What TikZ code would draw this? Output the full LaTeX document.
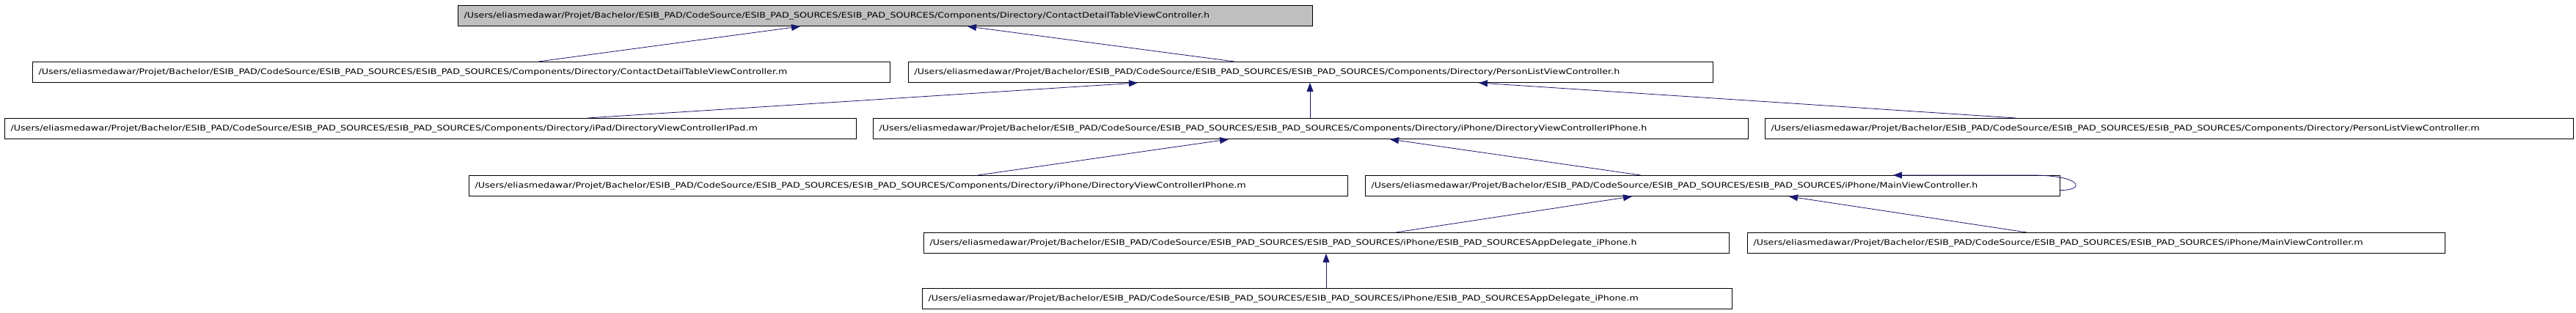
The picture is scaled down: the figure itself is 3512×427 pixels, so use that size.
\documentclass[tikz,border=0pt]{standalone}
\usepackage{fontspec}
\setmainfont{DejaVu Sans}[FakeStretch=1.21]
\usetikzlibrary{arrows.meta}
\definecolor{midnightblue}{RGB}{25,25,112}
\definecolor{grey75}{RGB}{191,191,191}
\newcommand{\srcdir}{/Users/eliasmedawar/Projet/Bachelor/ESIB\_PAD/CodeSource/ESIB\_PAD\_SOURCES/ESIB\_PAD\_SOURCES/}
\tikzset{
	filebox/.style={draw=black, line width=1pt, anchor=north west, fill=white,
		minimum height=28pt, inner xsep=8pt, inner ysep=0pt, align=left,
		/utils/exec={\pgfmathsetlengthmacro\boxtw{#1-16}}, text width=\boxtw,
		font=\fontsize{10.5pt}{12pt}\selectfont},
	rootbox/.style={filebox=#1, fill=grey75},
	dep/.style={midnightblue, line width=0.8pt, -{Triangle[length=12pt,width=9pt]}}
}

\begin{document}
\begin{tikzpicture}[x=1pt,y=-1pt]
\useasboundingbox (0,0) rectangle (3512,427);

\node[rootbox=1165] (detailh) at (624,7) {\srcdir Components/Directory/ContactDetailTableViewController.h};

\node[filebox=1169] (detailm) at (44,84) {\srcdir Components/Directory/ContactDetailTableViewController.m};
\node[filebox=1097] (personh) at (1238,84) {\srcdir Components/Directory/PersonListViewController.h};

\node[filebox=1161] (ipadm) at (6,161) {\srcdir Components/Directory/iPad/DirectoryViewControllerIPad.m};
\node[filebox=1193] (iphoneh) at (1190,161) {\srcdir Components/Directory/iPhone/DirectoryViewControllerIPhone.h};
\node[filebox=1102] (personm) at (2406,161) {\srcdir Components/Directory/PersonListViewController.m};

\node[filebox=1198] (iphonem) at (639,239) {\srcdir Components/Directory/iPhone/DirectoryViewControllerIPhone.m};
\node[filebox=947] (mainh) at (1861,239) {\srcdir iPhone/MainViewController.h};

\node[filebox=1098] (delegateh) at (1259,317) {\srcdir iPhone/ESIB\_PAD\_SOURCESAppDelegate\_iPhone.h};
\node[filebox=951] (mainm) at (2382,317) {\srcdir iPhone/MainViewController.m};

\node[filebox=1104] (delegatem) at (1257,393) {\srcdir iPhone/ESIB\_PAD\_SOURCESAppDelegate\_iPhone.m};

\foreach \a/\sa/\b/\sb in {detailm/690/detailh/467, personh/445/detailh/695,
	ipadm/795/personh/313, iphoneh/596/personh/548, personm/342/personh/778,
	iphonem/694/iphoneh/485, mainh/376/iphoneh/705,
	delegateh/644/mainh/364, mainm/381/mainh/578,
	delegatem/551/delegateh/549}{
	\draw[dep] ([xshift=\sa pt]\a.north west) -- ([xshift=\sb pt]\b.south west);
}
% include of itself
\draw[dep] ([yshift=-6pt]mainh.east) .. controls +(35pt,0pt) and +(70pt,0pt) .. ([xshift=-40pt]mainh.north east) -- ([xshift=720pt]mainh.north west);

\end{tikzpicture}
\end{document}
